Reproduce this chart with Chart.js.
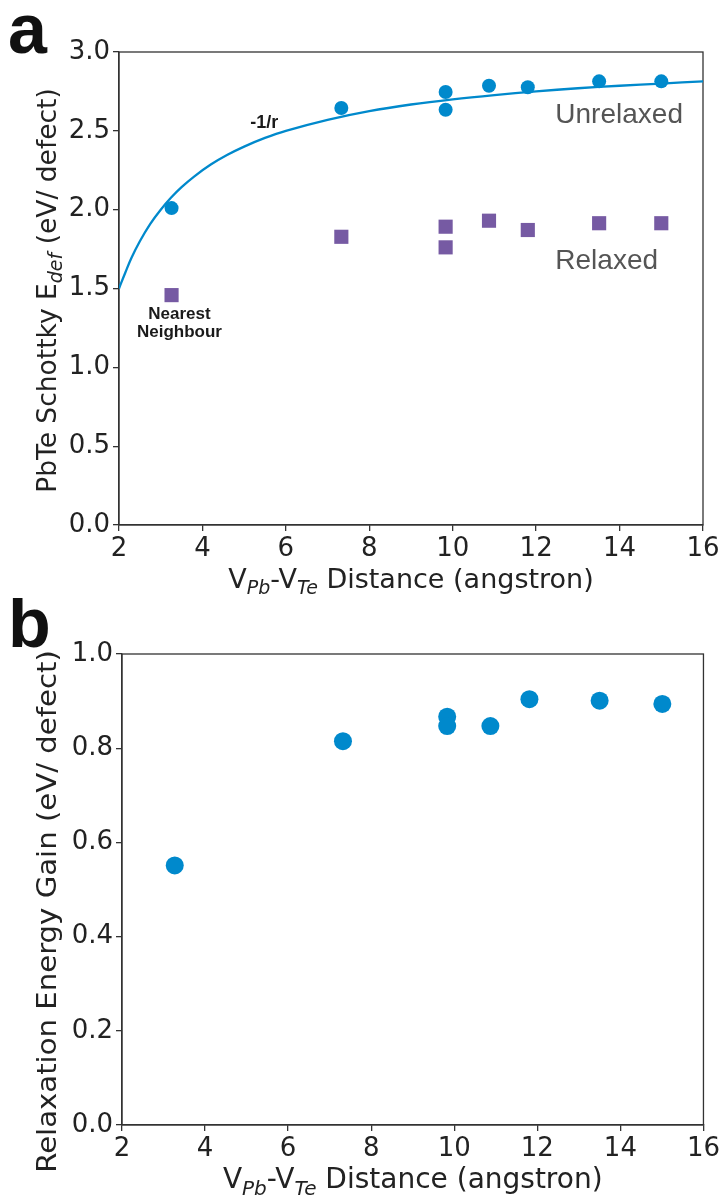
<!DOCTYPE html>
<html>
<head>
<meta charset="utf-8">
<script src="https://cdn.jsdelivr.net/npm/chart.js@4.4.1/dist/chart.umd.min.js"></script>
<style>
    body { margin: 0; background: #fff; }
    #wrap { position: relative; width: 723px; height: 1197px; overflow: hidden; }
    canvas { position: absolute; left: 0; }
    #schottky { top: 0; }
    #gain { top: 598px; }
</style>
</head>
<body>
<div id="wrap">
    <canvas id="schottky" width="723" height="598"></canvas>
    <canvas id="gain" width="723" height="599"></canvas>
</div>
<script>
// panel a: Schottky defect energy vs vacancy pair distance
const distance = [3.26, 7.33, 9.83, 9.83, 10.87, 11.80, 13.51, 15.00];
const unrelaxed = [2.01, 2.645, 2.746, 2.634, 2.786, 2.776, 2.814, 2.814];
const relaxed = [1.458, 1.828, 1.892, 1.761, 1.930, 1.871, 1.914, 1.914];

// -1/r guide curve
const fitDistance = [2.0, 2.15, 2.3, 2.5, 2.75, 3.0, 3.25, 3.5, 3.8, 4.2, 4.6, 5.0, 5.5, 6.0, 7.0, 8.0, 9.0, 10.0, 11.0, 12.0, 13.0, 14.0, 15.0, 16.0];
const fitEnergy = [1.50, 1.60, 1.695, 1.80, 1.91, 2.00, 2.077, 2.143, 2.21, 2.286, 2.348, 2.40, 2.455, 2.50, 2.57, 2.625, 2.667, 2.70, 2.727, 2.75, 2.77, 2.786, 2.80, 2.814];

// panel b: relaxation energy gain
const gainDistance = [3.27, 7.32, 9.83, 9.83, 10.87, 11.81, 13.50, 15.01];
const relaxationGain = [0.551, 0.815, 0.867, 0.847, 0.847, 0.904, 0.901, 0.894];

const xTickValues = [2, 4, 6, 8, 10, 12, 14, 16];
const energyTicks = [0.0, 0.5, 1.0, 1.5, 2.0, 2.5, 3.0];
const gainTicks = [0.0, 0.2, 0.4, 0.6, 0.8, 1.0];

const BLUE = '#0089cc';
const PURPLE = '#765aa3';
const AXIS = '#333333';
const TEXT = '#222222';
const tickFont = { family: 'DejaVu Sans', size: 26 };

const xTitle = [
    { t: 'V' }, { t: 'Pb', sub: true }, { t: '-V' }, { t: 'Te', sub: true }, { t: ' Distance (angstron)' }
];

// draws a title made of plain and italic-subscript pieces, centred on cx
function drawRich(ctx, segs, cx, y, size, stretch) {
    const fontOf = s => s.sub ? 'italic ' + Math.round(size * 0.7) + 'px "DejaVu Sans"' : size + 'px "DejaVu Sans"';
    let w = 0;
    segs.forEach(s => { ctx.font = fontOf(s); w += ctx.measureText(s.t).width; });
    ctx.save();
    ctx.translate(cx, y);
    ctx.scale(stretch, 1);
    let x = -w / 2;
    ctx.textAlign = 'left';
    ctx.textBaseline = 'alphabetic';
    segs.forEach(s => {
        ctx.font = fontOf(s);
        ctx.fillText(s.t, x, s.sub ? size * 0.24 : 0);
        x += ctx.measureText(s.t).width;
    });
    ctx.restore();
}

const framePlugin = {
    id: 'frame',
    beforeDatasetsDraw(chart) {
        const a = chart.chartArea;
        const ctx = chart.ctx;
        ctx.save();
        ctx.strokeStyle = AXIS;
        ctx.lineWidth = 1.3;
        ctx.strokeRect(a.left, a.top, a.right - a.left, a.bottom - a.top);
        ctx.restore();
    }
};

const textPlugin = {
    id: 'texts',
    afterDraw(chart, args, opts) {
        const ctx = chart.ctx;
        const a = chart.chartArea;
        ctx.save();
        ctx.fillStyle = TEXT;
        drawRich(ctx, opts.xTitle, (a.left + a.right) / 2, a.bottom + 63, opts.xSize, 1);
        ctx.save();
        ctx.translate(56, (a.top + a.bottom) / 2 + opts.yShift);
        ctx.rotate(-Math.PI / 2);
        drawRich(ctx, opts.yTitle, 0, 0, opts.ySize, opts.yStretch);
        ctx.restore();

        (opts.notes || []).forEach(n => {
            ctx.font = n.font;
            ctx.fillStyle = n.color;
            ctx.textAlign = n.align;
            ctx.textBaseline = 'alphabetic';
            ctx.fillText(n.text, chart.scales.x.getPixelForValue(n.x), chart.scales.y.getPixelForValue(n.y));
        });

        ctx.font = 'bold 70px "Liberation Sans"';
        ctx.fillStyle = '#111';
        ctx.textAlign = 'left';
        ctx.fillText(opts.letter.text, opts.letter.x, opts.letter.y);
        ctx.restore();
    }
};

function axisX(height) {
    return {
        type: 'linear',
        min: 2,
        max: 16,
        afterBuildTicks: s => { s.ticks = xTickValues.map(v => ({ value: v })); },
        afterFit: s => { s.height = height; },
        ticks: { font: tickFont, color: TEXT, padding: 3, maxRotation: 0 },
        grid: { drawOnChartArea: false, tickLength: 6, color: AXIS, lineWidth: 1.3 },
        border: { color: AXIS, width: 1.3 }
    };
}

function axisY(min, max, values, width) {
    return {
        min: min,
        max: max,
        afterBuildTicks: s => { s.ticks = values.map(v => ({ value: v })); },
        afterFit: s => { s.width = width; },
        ticks: { font: tickFont, color: TEXT, padding: 3, callback: v => Number(v).toFixed(1) },
        grid: { drawOnChartArea: false, tickLength: 6, color: AXIS, lineWidth: 1.3 },
        border: { color: AXIS, width: 1.3 }
    };
}

const pairs = (xs, ys) => xs.map((x, i) => ({ x: x, y: ys[i] }));

new Chart(document.getElementById('schottky'), {
    type: 'scatter',
    data: {
        datasets: [
            {
                label: 'Unrelaxed',
                data: pairs(distance, unrelaxed),
                backgroundColor: BLUE,
                borderWidth: 0,
                pointRadius: 7,
                pointHoverRadius: 7
            },
            {
                label: 'Relaxed',
                data: pairs(distance, relaxed),
                backgroundColor: PURPLE,
                borderWidth: 0,
                pointStyle: 'rect',
                pointRadius: 10,
                pointHoverRadius: 10
            },
            {
                type: 'line',
                label: '-1/r',
                data: pairs(fitDistance, fitEnergy),
                borderColor: BLUE,
                borderWidth: 2.3,
                pointRadius: 0,
                tension: 0.4,
                fill: false
            }
        ]
    },
    options: {
        responsive: false,
        animation: false,
        layout: { padding: { top: 52, right: 20, left: 0, bottom: 0 } },
        scales: {
            x: axisX(73),
            y: axisY(0, 3, energyTicks, 119)
        },
        plugins: {
            legend: { display: false },
            tooltip: { enabled: false },
            texts: {
                xTitle: xTitle,
                xSize: 27,
                yTitle: [{ t: 'PbTe Schottky E' }, { t: 'def', sub: true }, { t: ' (eV/ defect)' }],
                ySize: 26.5,
                yStretch: 1,
                yShift: 2,
                letter: { text: 'a', x: 8, y: 53 },
                notes: [
                    { text: 'Unrelaxed', x: 12.46, y: 2.551, font: '28px "Liberation Sans"', color: '#555555', align: 'left' },
                    { text: 'Relaxed', x: 12.46, y: 1.624, font: '28px "Liberation Sans"', color: '#555555', align: 'left' },
                    { text: '-1/r', x: 5.48, y: 2.52, font: 'bold 18px "Liberation Sans"', color: '#1a1a1a', align: 'center' },
                    { text: 'Nearest', x: 3.45, y: 1.305, font: 'bold 17px "Liberation Sans"', color: '#1a1a1a', align: 'center' },
                    { text: 'Neighbour', x: 3.45, y: 1.19, font: 'bold 17px "Liberation Sans"', color: '#1a1a1a', align: 'center' }
                ]
            }
        }
    },
    plugins: [framePlugin, textPlugin]
});

new Chart(document.getElementById('gain'), {
    type: 'scatter',
    data: {
        datasets: [{
            label: 'Relaxation Energy Gain',
            data: pairs(gainDistance, relaxationGain),
            backgroundColor: BLUE,
            borderWidth: 0,
            pointRadius: 9,
            pointHoverRadius: 9
        }]
    },
    options: {
        responsive: false,
        animation: false,
        layout: { padding: { top: 56, right: 19, left: 0, bottom: 0 } },
        scales: {
            x: axisX(72),
            y: axisY(0, 1, gainTicks, 122)
        },
        plugins: {
            legend: { display: false },
            tooltip: { enabled: false },
            texts: {
                xTitle: xTitle,
                xSize: 28,
                yTitle: [{ t: 'Relaxation Energy Gain (eV/ defect)' }],
                ySize: 27,
                yStretch: 1.08,
                yShift: 22,
                letter: { text: 'b', x: 8, y: 49 }
            }
        }
    },
    plugins: [framePlugin, textPlugin]
});
</script>
</body>
</html>
